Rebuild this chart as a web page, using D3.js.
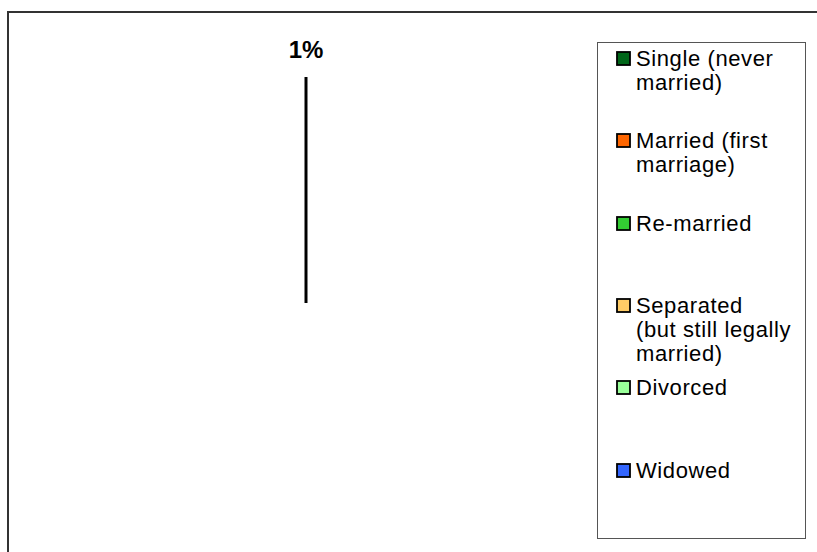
<!DOCTYPE html>
<html><head><meta charset="utf-8">
<script src="https://cdn.jsdelivr.net/npm/d3@7"></script>
<style>html,body{margin:0;padding:0;background:#fff;} svg{display:block;}</style>
</head><body>
<script>
// Data
const categories = ["Single (never married)", "Married (first marriage)", "Re-married", "Separated (but still legally married)", "Divorced", "Widowed"];
const legendLines = [["Single (never", "married)"], ["Married (first", "marriage)"], ["Re-married"], ["Separated", "(but still legally", "married)"], ["Divorced"], ["Widowed"]];
const values = [1, 0, 0, 0, 0, 0];        // percent
const colors = ["#006619", "#ff6600", "#33cc33", "#ffcc66", "#99ff99", "#3366ff"];
const legendBaselines = [66, 148, 231, 313, 395, 478];

const W = 817, H = 552;
const svg = d3.select("body").append("svg").attr("width", W).attr("height", H);

// outer frame (extends past the window)
svg.append("rect").attr("x", 8).attr("y", 12).attr("width", 900).attr("height", 700)
  .attr("fill", "#fff").attr("stroke", "#333").attr("stroke-width", 2);

// pie
const cx = 306, cy = 303, R = 226;
const pie = d3.pie().sort(null).value(d => d)(values);
const arc = d3.arc().innerRadius(0).outerRadius(R);
const g = svg.append("g").attr("transform", `translate(${cx},${cy})`);
g.selectAll("path.slice").data(pie).join("path").attr("class", "slice")
  .attr("d", arc).attr("fill", "none").attr("stroke", "none");

// visible slice edge + label
const shown = pie.filter(d => d.value > 0);
g.selectAll("line.edge").data(shown).join("line").attr("class", "edge")
  .attr("x1", 0).attr("y1", 0)
  .attr("x2", d => R * Math.sin(d.startAngle))
  .attr("y2", d => -R * Math.cos(d.startAngle))
  .attr("stroke", "#000").attr("stroke-width", 3);
g.selectAll("text.lbl").data(shown).join("text").attr("class", "lbl")
  .attr("x", d => (R + 19) * Math.sin(d.startAngle))
  .attr("y", d => -(R + 19) * Math.cos(d.startAngle))
  .attr("text-anchor", "middle")
  .attr("font-family", "Liberation Sans, Arial, sans-serif")
  .attr("font-weight", "bold").attr("font-size", 24)
  .text(d => d3.format(".0f")(d.value) + "%");

// legend
svg.append("rect").attr("x", 597.5).attr("y", 42.5).attr("width", 208).attr("height", 496)
  .attr("fill", "#fff").attr("stroke", "#555").attr("stroke-width", 1);
const lg = svg.append("g");
categories.forEach((c, i) => {
  const b = legendBaselines[i];
  lg.append("rect").attr("x", 617).attr("y", b - 14).attr("width", 13).attr("height", 13)
    .attr("fill", colors[i]).attr("stroke", "#000").attr("stroke-width", 1.8);
  const t = lg.append("text").attr("x", 636).attr("y", b)
    .attr("font-family", "Liberation Sans, Arial, sans-serif")
    .attr("font-size", 22).attr("letter-spacing", 0.6).attr("fill", "#000");
  legendLines[i].forEach((ln, j) => {
    t.append("tspan").attr("x", 636).attr("y", b + j * 24).text(ln);
  });
});
</script>
</body></html>
